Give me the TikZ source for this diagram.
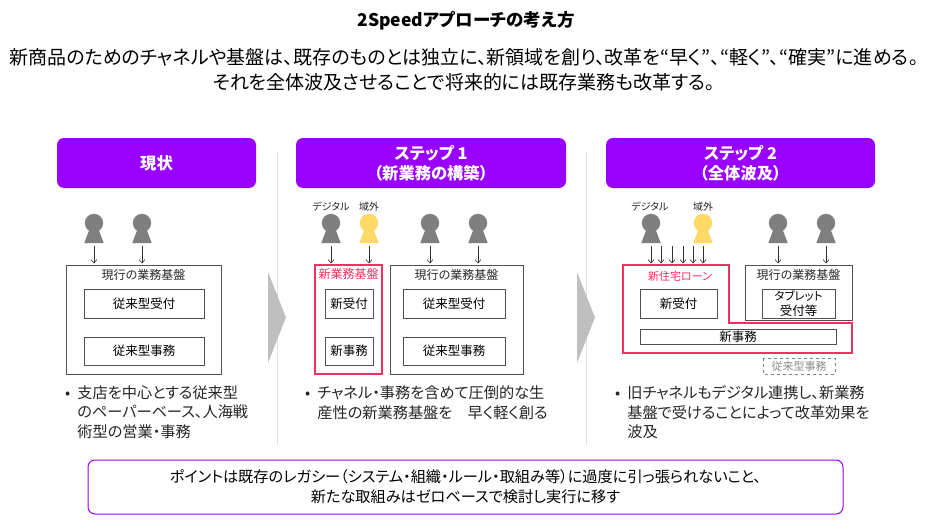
\documentclass[tikz,border=0pt]{standalone}
\usepackage{fontspec}
\setmainfont[RawFeature=+palt]{Noto Sans CJK JP}
\usetikzlibrary{arrows.meta}
\definecolor{purp}{HTML}{9900FF}
\definecolor{redp}{HTML}{F0305F}
\definecolor{gry}{HTML}{7F7F7F}
\definecolor{ylw}{HTML}{FFD966}
\definecolor{edge}{HTML}{505050}
\tikzset{
 x=1pt,y=-1pt,
 hdr/.style={fill=purp,draw=none,rounded corners=7pt,text=white,font=\fontsize{16.3}{20}\selectfont\bfseries,align=center,inner sep=0pt},
 inbox/.style={draw=edge,line width=.8pt,fill=white,font=\fontsize{12.5}{15}\selectfont,align=center,inner sep=0pt},
 outbox/.style={draw=edge,line width=.8pt,fill=white},
 redbox/.style={draw=redp,line width=1.2pt,fill=white},
 lbl/.style={font=\fontsize{12}{15}\selectfont,inner sep=0pt,text=black!85},
 small/.style={font=\fontsize{10}{12}\selectfont,inner sep=0pt,text=black!85},
 bul/.style={font=\fontsize{15.2}{19.5}\selectfont,inner sep=0pt,align=left,anchor=north west,text=black!85},
 arr/.style={-{Straight Barb[length=3.5pt,width=6pt]},line width=.6pt,draw=black!80},
 tri/.style={fill=black!25,draw=none},
 sep/.style={draw=black!12,line width=.8pt},
}
\newcommand{\person}[3]{% x, colour, name
 \fill[#2] (#1,223) circle (9.2);
 \fill[#2] (#1-4,228) -- (#1+4,228) -- (#1+9.7,243) -- (#1-9.7,243) -- cycle;
 \coordinate (#3a) at (#1,246);
 \coordinate (#3b) at (#1,263.5);
 \draw[arr] (#3a) -- (#3b);
}
\newcommand{\bx}[6]{% style,name,x1,y1,x2,y2 then text
 \node[#1,minimum width=#5pt-#3pt,minimum height=#6pt-#4pt] (#2) at ({(#3+#5)/2},{(#4+#6)/2})}
\begin{document}
\begin{tikzpicture}
\useasboundingbox (0,0) rectangle (935,527);
\fill[white] (0,0) rectangle (935,527);
\node[font=\fontsize{17.5}{20}\selectfont\bfseries,inner sep=0pt] (title) at (466,21) {2Speedアプローチの考え方};
\node[font=\fontsize{19}{25}\selectfont,inner sep=0pt,align=center] (sub) at (464,69.5) {新商品のためのチャネルや基盤は、既存のものとは独立に、新領域を創り、改革を“早く”、“軽く”、“確実”に進める。\\それを全体波及させることで将来的には既存業務も改革する。};
% separators and triangles
\coordinate (s1a) at (277,152); \coordinate (s1b) at (277,445);
\coordinate (s2a) at (586,152); \coordinate (s2b) at (586,445);
\draw[sep] (s1a) -- (s1b);
\draw[sep] (s2a) -- (s2b);
\fill[tri] (268,272) -- (286,317.5) -- (268,363) -- cycle;
\fill[tri] (577,272) -- (595,317.5) -- (577,363) -- cycle;
% headers
\bx{hdr}{h1}{57}{138}{256}{188} {現状};
\bx{hdr}{h2}{296}{138}{566}{188} {ステップ 1\\（新業務の構築）};
\bx{hdr}{h3}{606}{138}{875}{188} {ステップ 2\\（全体波及）};
% column 1
\person{94}{gry}{pa}
\person{142}{gry}{pb}
\bx{outbox}{o1}{66.5}{265}{221}{374} {};
\node[lbl] (o1t) at (143.5,274.5) {現行の業務基盤};
\bx{inbox}{i1a}{84}{289}{204}{318} {従来型受付};
\bx{inbox}{i1b}{84}{337}{204}{365} {従来型事務};
\node[bul] (t1) at (65,385.5) {•\hspace{7pt}\parbox[t]{175pt}{\lineskiplimit=-10pt 支店を中心とする従来型\\のペーパーベース、人海戦\\術型の営業・事務}};
% column 2
\person{331}{gry}{pc}
\person{369}{ylw}{pd}
\person{430}{gry}{pe}
\person{478}{gry}{pf}
\node[small] (l1) at (331,206.5) {デジタル};
\node[small] (l2) at (369,206.5) {域外};
\bx{redbox}{r2}{315}{265}{382}{374} {};
\node[lbl,text=redp] (r2t) at (348.5,273.5) {新業務基盤};
\bx{inbox}{i2a}{325}{289}{373}{318} {新受付};
\bx{inbox}{i2b}{325}{337}{373}{365} {新事務};
\bx{outbox}{o2}{390}{265}{523}{374} {};
\node[lbl] (o2t) at (456.5,274.5) {現行の業務基盤};
\bx{inbox}{i2c}{403}{289}{505}{318} {従来型受付};
\bx{inbox}{i2d}{403}{337}{505}{365} {従来型事務};
\node[bul] (t2) at (305,385.5) {•\hspace{7pt}\parbox[t]{240pt}{\lineskiplimit=-10pt チャネル・事務を含めて圧倒的な生\\産性の新業務基盤を\hspace{1em}早く軽く創る}};
% column 3
\person{651}{gry}{pg}
\person{703}{ylw}{ph}
\person{778}{gry}{pi}
\person{826}{gry}{pj}
\node[small] (l3) at (650,206.5) {デジタル};
\node[small] (l4) at (703,206.5) {域外};
\coordinate (m1a) at (661,246); \coordinate (m1b) at (661,263.5);
\coordinate (m2a) at (672,246); \coordinate (m2b) at (672,263.5);
\coordinate (m3a) at (683,246); \coordinate (m3b) at (683,263.5);
\coordinate (m4a) at (693,246); \coordinate (m4b) at (693,263.5);
\draw[arr] (m1a) -- (m1b);
\draw[arr] (m2a) -- (m2b);
\draw[arr] (m3a) -- (m3b);
\draw[arr] (m4a) -- (m4b);
\bx{outbox}{o3}{745}{265}{852}{320} {};
\node[lbl] (o3t) at (798.5,274.5) {現行の業務基盤};
\bx{inbox}{i3c}{762}{289}{835}{318} {\fontsize{11.5}{14}\selectfont タブレット\\受付等};
\draw[redbox,fill=none] (623,265) -- (729,265) -- (729,323) -- (852,323) -- (852,353) -- (623,353) -- cycle;
\node[lbl,text=redp,font=\fontsize{11}{14}\selectfont] (r3t) at (680,276) {新住宅ローン};
\bx{inbox}{i3a}{640}{289}{717}{318} {新受付};
\bx{inbox}{i3b}{640}{329}{836}{344} {新事務};
\node[inbox,draw=none,fill=none,text=black!45,font=\fontsize{11}{14}\selectfont] (i3d) at (799,366) {従来型事務};
\draw[draw=gry,line width=.9pt,dashed] (763,358) rectangle (835,374);
\node[bul] (t3) at (615,385.5) {•\hspace{7pt}\parbox[t]{240pt}{\lineskiplimit=-10pt 旧チャネルもデジタル連携し、新業務\\基盤で受けることによって改革効果を\\波及}};
% bottom
\node[draw=purp,line width=1pt,rounded corners=7pt,fill=white,minimum width=755pt,minimum height=54pt,inner sep=0pt,align=center,font=\fontsize{15.2}{20}\selectfont] (bot) at (465.5,487) {ポイントは既存のレガシー（システム・組織・ルール・取組み等）に過度に引っ張られないこと、\\新たな取組みはゼロベースで検討し実行に移す};
\end{tikzpicture}
\end{document}
